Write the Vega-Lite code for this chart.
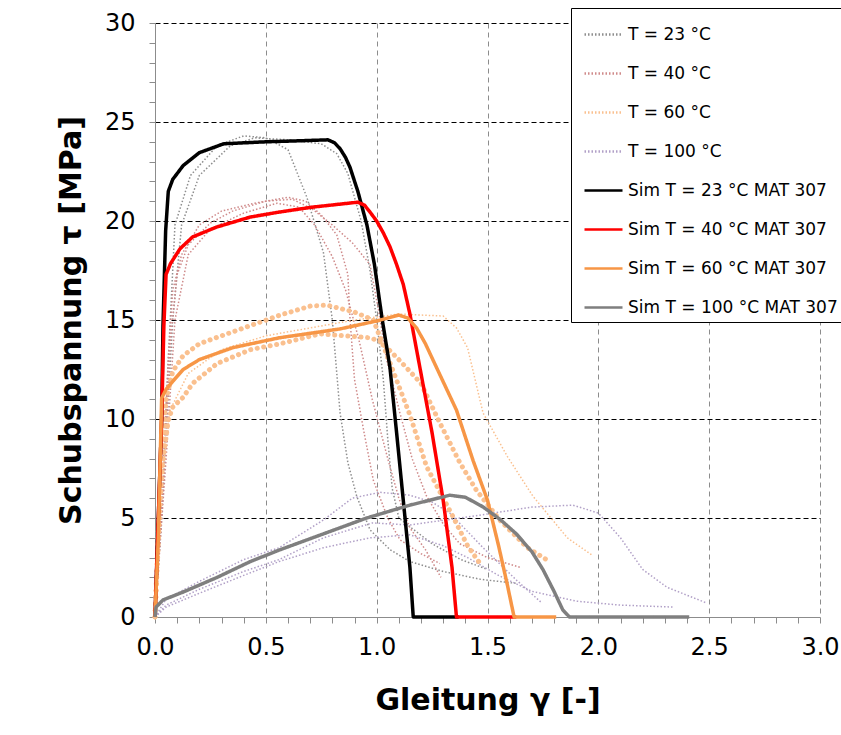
{
"$schema": "https://vega.github.io/schema/vega-lite/v6.json",
"width": 665, "height": 594,
"autosize": {"type": "none"},
"padding": {"left": 155, "top": 23, "right": 21, "bottom": 118},
"background": "white",
"config": {"view": {"stroke": null}, "font": "DejaVu Sans"},
"datasets": {"curves": [
{"series":"T = 23 °C","curve":"e23a","kind":"exp","gamma":0,"tau":0},{"series":"T = 23 °C","curve":"e23a","kind":"exp","gamma":0.03,"tau":5},{"series":"T = 23 °C","curve":"e23a","kind":"exp","gamma":0.06,"tau":13},{"series":"T = 23 °C","curve":"e23a","kind":"exp","gamma":0.09,"tau":19.8},{"series":"T = 23 °C","curve":"e23a","kind":"exp","gamma":0.16,"tau":22.3},{"series":"T = 23 °C","curve":"e23a","kind":"exp","gamma":0.28,"tau":23.8},{"series":"T = 23 °C","curve":"e23a","kind":"exp","gamma":0.4,"tau":24.3},{"series":"T = 23 °C","curve":"e23a","kind":"exp","gamma":0.5,"tau":24.2},{"series":"T = 23 °C","curve":"e23a","kind":"exp","gamma":0.6,"tau":23.6},{"series":"T = 23 °C","curve":"e23a","kind":"exp","gamma":0.685,"tau":21.2},{"series":"T = 23 °C","curve":"e23a","kind":"exp","gamma":0.76,"tau":18.4},{"series":"T = 23 °C","curve":"e23a","kind":"exp","gamma":0.8,"tau":15},{"series":"T = 23 °C","curve":"e23a","kind":"exp","gamma":0.835,"tau":10.3},{"series":"T = 23 °C","curve":"e23a","kind":"exp","gamma":0.87,"tau":7.8},{"series":"T = 23 °C","curve":"e23a","kind":"exp","gamma":0.91,"tau":6.1},{"series":"T = 23 °C","curve":"e23a","kind":"exp","gamma":0.97,"tau":4.4},{"series":"T = 23 °C","curve":"e23a","kind":"exp","gamma":1.06,"tau":3.4},{"series":"T = 23 °C","curve":"e23a","kind":"exp","gamma":1.15,"tau":2.8},{"series":"T = 23 °C","curve":"e23a","kind":"exp","gamma":1.3,"tau":2.3},{"series":"T = 23 °C","curve":"e23a","kind":"exp","gamma":1.47,"tau":1.9},{"series":"T = 23 °C","curve":"e23a","kind":"exp","gamma":1.63,"tau":1.7},
{"series":"T = 23 °C","curve":"e23b","kind":"exp","gamma":0,"tau":0},{"series":"T = 23 °C","curve":"e23b","kind":"exp","gamma":0.04,"tau":7},{"series":"T = 23 °C","curve":"e23b","kind":"exp","gamma":0.08,"tau":15},{"series":"T = 23 °C","curve":"e23b","kind":"exp","gamma":0.12,"tau":19.8},{"series":"T = 23 °C","curve":"e23b","kind":"exp","gamma":0.2,"tau":22.3},{"series":"T = 23 °C","curve":"e23b","kind":"exp","gamma":0.34,"tau":23.8},{"series":"T = 23 °C","curve":"e23b","kind":"exp","gamma":0.45,"tau":24.2},{"series":"T = 23 °C","curve":"e23b","kind":"exp","gamma":0.6,"tau":24.1},{"series":"T = 23 °C","curve":"e23b","kind":"exp","gamma":0.75,"tau":23.9},{"series":"T = 23 °C","curve":"e23b","kind":"exp","gamma":0.82,"tau":23.4},{"series":"T = 23 °C","curve":"e23b","kind":"exp","gamma":0.87,"tau":22.4},{"series":"T = 23 °C","curve":"e23b","kind":"exp","gamma":0.93,"tau":20},{"series":"T = 23 °C","curve":"e23b","kind":"exp","gamma":0.97,"tau":17.5},{"series":"T = 23 °C","curve":"e23b","kind":"exp","gamma":1.0,"tau":15},{"series":"T = 23 °C","curve":"e23b","kind":"exp","gamma":1.03,"tau":12},{"series":"T = 23 °C","curve":"e23b","kind":"exp","gamma":1.05,"tau":9},{"series":"T = 23 °C","curve":"e23b","kind":"exp","gamma":1.07,"tau":6.5},{"series":"T = 23 °C","curve":"e23b","kind":"exp","gamma":1.1,"tau":5.0},{"series":"T = 23 °C","curve":"e23b","kind":"exp","gamma":1.18,"tau":4.3},{"series":"T = 23 °C","curve":"e23b","kind":"exp","gamma":1.25,"tau":3.7},{"series":"T = 23 °C","curve":"e23b","kind":"exp","gamma":1.38,"tau":2.9},{"series":"T = 23 °C","curve":"e23b","kind":"exp","gamma":1.5,"tau":2.4},
{"series":"T = 40 °C","curve":"e40a","kind":"exp","gamma":0,"tau":0},{"series":"T = 40 °C","curve":"e40a","kind":"exp","gamma":0.03,"tau":6},{"series":"T = 40 °C","curve":"e40a","kind":"exp","gamma":0.06,"tau":13},{"series":"T = 40 °C","curve":"e40a","kind":"exp","gamma":0.08,"tau":16.5},{"series":"T = 40 °C","curve":"e40a","kind":"exp","gamma":0.12,"tau":18.3},{"series":"T = 40 °C","curve":"e40a","kind":"exp","gamma":0.2,"tau":19.8},{"series":"T = 40 °C","curve":"e40a","kind":"exp","gamma":0.3,"tau":20.5},{"series":"T = 40 °C","curve":"e40a","kind":"exp","gamma":0.45,"tau":20.9},{"series":"T = 40 °C","curve":"e40a","kind":"exp","gamma":0.6,"tau":21.2},{"series":"T = 40 °C","curve":"e40a","kind":"exp","gamma":0.68,"tau":21.0},{"series":"T = 40 °C","curve":"e40a","kind":"exp","gamma":0.75,"tau":20.3},{"series":"T = 40 °C","curve":"e40a","kind":"exp","gamma":0.82,"tau":19.3},{"series":"T = 40 °C","curve":"e40a","kind":"exp","gamma":0.87,"tau":17.3},{"series":"T = 40 °C","curve":"e40a","kind":"exp","gamma":0.88,"tau":15},{"series":"T = 40 °C","curve":"e40a","kind":"exp","gamma":0.9,"tau":12},{"series":"T = 40 °C","curve":"e40a","kind":"exp","gamma":0.94,"tau":9.5},{"series":"T = 40 °C","curve":"e40a","kind":"exp","gamma":0.985,"tau":6.9},{"series":"T = 40 °C","curve":"e40a","kind":"exp","gamma":1.05,"tau":5},{"series":"T = 40 °C","curve":"e40a","kind":"exp","gamma":1.105,"tau":3.9},{"series":"T = 40 °C","curve":"e40a","kind":"exp","gamma":1.2,"tau":3.2},{"series":"T = 40 °C","curve":"e40a","kind":"exp","gamma":1.285,"tau":2.7},
{"series":"T = 40 °C","curve":"e40b","kind":"exp","gamma":0,"tau":0},{"series":"T = 40 °C","curve":"e40b","kind":"exp","gamma":0.04,"tau":7},{"series":"T = 40 °C","curve":"e40b","kind":"exp","gamma":0.07,"tau":14},{"series":"T = 40 °C","curve":"e40b","kind":"exp","gamma":0.1,"tau":17.3},{"series":"T = 40 °C","curve":"e40b","kind":"exp","gamma":0.15,"tau":18.8},{"series":"T = 40 °C","curve":"e40b","kind":"exp","gamma":0.25,"tau":19.9},{"series":"T = 40 °C","curve":"e40b","kind":"exp","gamma":0.35,"tau":20.5},{"series":"T = 40 °C","curve":"e40b","kind":"exp","gamma":0.5,"tau":21.0},{"series":"T = 40 °C","curve":"e40b","kind":"exp","gamma":0.62,"tau":21.1},{"series":"T = 40 °C","curve":"e40b","kind":"exp","gamma":0.71,"tau":20.6},{"series":"T = 40 °C","curve":"e40b","kind":"exp","gamma":0.8,"tau":19.8},{"series":"T = 40 °C","curve":"e40b","kind":"exp","gamma":0.89,"tau":18.9},{"series":"T = 40 °C","curve":"e40b","kind":"exp","gamma":0.97,"tau":17.8},{"series":"T = 40 °C","curve":"e40b","kind":"exp","gamma":1.01,"tau":15.4},{"series":"T = 40 °C","curve":"e40b","kind":"exp","gamma":1.045,"tau":13},{"series":"T = 40 °C","curve":"e40b","kind":"exp","gamma":1.105,"tau":10.3},{"series":"T = 40 °C","curve":"e40b","kind":"exp","gamma":1.16,"tau":8},{"series":"T = 40 °C","curve":"e40b","kind":"exp","gamma":1.225,"tau":6.1},{"series":"T = 40 °C","curve":"e40b","kind":"exp","gamma":1.3,"tau":4.7},{"series":"T = 40 °C","curve":"e40b","kind":"exp","gamma":1.375,"tau":3.7},{"series":"T = 40 °C","curve":"e40b","kind":"exp","gamma":1.5,"tau":3.0},{"series":"T = 40 °C","curve":"e40b","kind":"exp","gamma":1.65,"tau":2.5},
{"series":"T = 40 °C","curve":"e40c","kind":"exp","gamma":0,"tau":0},{"series":"T = 40 °C","curve":"e40c","kind":"exp","gamma":0.05,"tau":8},{"series":"T = 40 °C","curve":"e40c","kind":"exp","gamma":0.09,"tau":15},{"series":"T = 40 °C","curve":"e40c","kind":"exp","gamma":0.15,"tau":18.3},{"series":"T = 40 °C","curve":"e40c","kind":"exp","gamma":0.25,"tau":19.6},{"series":"T = 40 °C","curve":"e40c","kind":"exp","gamma":0.4,"tau":20.4},{"series":"T = 40 °C","curve":"e40c","kind":"exp","gamma":0.55,"tau":20.9},{"series":"T = 40 °C","curve":"e40c","kind":"exp","gamma":0.65,"tau":20.7},{"series":"T = 40 °C","curve":"e40c","kind":"exp","gamma":0.72,"tau":19.8},{"series":"T = 40 °C","curve":"e40c","kind":"exp","gamma":0.8,"tau":18.2},{"series":"T = 40 °C","curve":"e40c","kind":"exp","gamma":0.86,"tau":16.5},{"series":"T = 40 °C","curve":"e40c","kind":"exp","gamma":0.92,"tau":14},{"series":"T = 40 °C","curve":"e40c","kind":"exp","gamma":0.98,"tau":11},{"series":"T = 40 °C","curve":"e40c","kind":"exp","gamma":1.05,"tau":8},{"series":"T = 40 °C","curve":"e40c","kind":"exp","gamma":1.1,"tau":6},{"series":"T = 40 °C","curve":"e40c","kind":"exp","gamma":1.15,"tau":4.5},{"series":"T = 40 °C","curve":"e40c","kind":"exp","gamma":1.22,"tau":3.4},{"series":"T = 40 °C","curve":"e40c","kind":"exp","gamma":1.29,"tau":2.0},
{"series":"T = 60 °C","curve":"e60c","kind":"exp","gamma":0,"tau":0},{"series":"T = 60 °C","curve":"e60c","kind":"exp","gamma":0.03,"tau":7},{"series":"T = 60 °C","curve":"e60c","kind":"exp","gamma":0.07,"tau":10.5},{"series":"T = 60 °C","curve":"e60c","kind":"exp","gamma":0.15,"tau":12.3},{"series":"T = 60 °C","curve":"e60c","kind":"exp","gamma":0.3,"tau":13.5},{"series":"T = 60 °C","curve":"e60c","kind":"exp","gamma":0.5,"tau":14.2},{"series":"T = 60 °C","curve":"e60c","kind":"exp","gamma":0.7,"tau":14.6},{"series":"T = 60 °C","curve":"e60c","kind":"exp","gamma":0.9,"tau":15},{"series":"T = 60 °C","curve":"e60c","kind":"exp","gamma":1.1,"tau":15.3},{"series":"T = 60 °C","curve":"e60c","kind":"exp","gamma":1.3,"tau":15.2},{"series":"T = 60 °C","curve":"e60c","kind":"exp","gamma":1.36,"tau":14.6},{"series":"T = 60 °C","curve":"e60c","kind":"exp","gamma":1.41,"tau":13.6},{"series":"T = 60 °C","curve":"e60c","kind":"exp","gamma":1.48,"tau":10.3},{"series":"T = 60 °C","curve":"e60c","kind":"exp","gamma":1.59,"tau":8.1},{"series":"T = 60 °C","curve":"e60c","kind":"exp","gamma":1.705,"tau":6.1},{"series":"T = 60 °C","curve":"e60c","kind":"exp","gamma":1.86,"tau":4.0},{"series":"T = 60 °C","curve":"e60c","kind":"exp","gamma":1.975,"tau":3.1},
{"series":"T = 100 °C","curve":"e100a","kind":"exp","gamma":0,"tau":0},{"series":"T = 100 °C","curve":"e100a","kind":"exp","gamma":0.05,"tau":0.9},{"series":"T = 100 °C","curve":"e100a","kind":"exp","gamma":0.2,"tau":1.8},{"series":"T = 100 °C","curve":"e100a","kind":"exp","gamma":0.4,"tau":2.9},{"series":"T = 100 °C","curve":"e100a","kind":"exp","gamma":0.56,"tau":3.5},{"series":"T = 100 °C","curve":"e100a","kind":"exp","gamma":0.76,"tau":4.9},{"series":"T = 100 °C","curve":"e100a","kind":"exp","gamma":0.89,"tau":6.0},{"series":"T = 100 °C","curve":"e100a","kind":"exp","gamma":1.015,"tau":6.3},{"series":"T = 100 °C","curve":"e100a","kind":"exp","gamma":1.15,"tau":6.15},{"series":"T = 100 °C","curve":"e100a","kind":"exp","gamma":1.25,"tau":5.8},{"series":"T = 100 °C","curve":"e100a","kind":"exp","gamma":1.33,"tau":5.25},{"series":"T = 100 °C","curve":"e100a","kind":"exp","gamma":1.48,"tau":3.5},{"series":"T = 100 °C","curve":"e100a","kind":"exp","gamma":1.63,"tau":1.87},{"series":"T = 100 °C","curve":"e100a","kind":"exp","gamma":1.74,"tau":0.76},
{"series":"T = 100 °C","curve":"e100b","kind":"exp","gamma":0,"tau":0},{"series":"T = 100 °C","curve":"e100b","kind":"exp","gamma":0.05,"tau":0.6},{"series":"T = 100 °C","curve":"e100b","kind":"exp","gamma":0.2,"tau":1.4},{"series":"T = 100 °C","curve":"e100b","kind":"exp","gamma":0.4,"tau":2.3},{"series":"T = 100 °C","curve":"e100b","kind":"exp","gamma":0.56,"tau":2.9},{"series":"T = 100 °C","curve":"e100b","kind":"exp","gamma":0.76,"tau":4.0},{"series":"T = 100 °C","curve":"e100b","kind":"exp","gamma":0.98,"tau":4.75},{"series":"T = 100 °C","curve":"e100b","kind":"exp","gamma":1.15,"tau":4.65},{"series":"T = 100 °C","curve":"e100b","kind":"exp","gamma":1.41,"tau":5.05},{"series":"T = 100 °C","curve":"e100b","kind":"exp","gamma":1.7,"tau":5.55},{"series":"T = 100 °C","curve":"e100b","kind":"exp","gamma":1.885,"tau":5.65},{"series":"T = 100 °C","curve":"e100b","kind":"exp","gamma":2.0,"tau":5.25},{"series":"T = 100 °C","curve":"e100b","kind":"exp","gamma":2.1,"tau":4.0},{"series":"T = 100 °C","curve":"e100b","kind":"exp","gamma":2.2,"tau":2.4},{"series":"T = 100 °C","curve":"e100b","kind":"exp","gamma":2.31,"tau":1.5},{"series":"T = 100 °C","curve":"e100b","kind":"exp","gamma":2.49,"tau":0.7},
{"series":"T = 100 °C","curve":"e100c","kind":"exp","gamma":0,"tau":0},{"series":"T = 100 °C","curve":"e100c","kind":"exp","gamma":0.05,"tau":0.5},{"series":"T = 100 °C","curve":"e100c","kind":"exp","gamma":0.2,"tau":1.2},{"series":"T = 100 °C","curve":"e100c","kind":"exp","gamma":0.4,"tau":2.1},{"series":"T = 100 °C","curve":"e100c","kind":"exp","gamma":0.56,"tau":2.8},{"series":"T = 100 °C","curve":"e100c","kind":"exp","gamma":0.76,"tau":3.5},{"series":"T = 100 °C","curve":"e100c","kind":"exp","gamma":0.97,"tau":4.0},{"series":"T = 100 °C","curve":"e100c","kind":"exp","gamma":1.15,"tau":4.15},{"series":"T = 100 °C","curve":"e100c","kind":"exp","gamma":1.3,"tau":3.6},{"series":"T = 100 °C","curve":"e100c","kind":"exp","gamma":1.41,"tau":3.0},{"series":"T = 100 °C","curve":"e100c","kind":"exp","gamma":1.55,"tau":2.1},{"series":"T = 100 °C","curve":"e100c","kind":"exp","gamma":1.7,"tau":1.3},{"series":"T = 100 °C","curve":"e100c","kind":"exp","gamma":1.9,"tau":0.8},{"series":"T = 100 °C","curve":"e100c","kind":"exp","gamma":2.1,"tau":0.6},{"series":"T = 100 °C","curve":"e100c","kind":"exp","gamma":2.34,"tau":0.5},
{"series":"T = 60 °C","curve":"e60a","kind":"big","gamma":0,"tau":0},{"series":"T = 60 °C","curve":"e60a","kind":"big","gamma":0.01,"tau":3},{"series":"T = 60 °C","curve":"e60a","kind":"big","gamma":0.015,"tau":4.5},{"series":"T = 60 °C","curve":"e60a","kind":"big","gamma":0.036,"tau":7.9},{"series":"T = 60 °C","curve":"e60a","kind":"big","gamma":0.06,"tau":9.95},{"series":"T = 60 °C","curve":"e60a","kind":"big","gamma":0.08,"tau":10.6},{"series":"T = 60 °C","curve":"e60a","kind":"big","gamma":0.127,"tau":11.1},{"series":"T = 60 °C","curve":"e60a","kind":"big","gamma":0.17,"tau":11.8},{"series":"T = 60 °C","curve":"e60a","kind":"big","gamma":0.28,"tau":12.8},{"series":"T = 60 °C","curve":"e60a","kind":"big","gamma":0.43,"tau":13.5},{"series":"T = 60 °C","curve":"e60a","kind":"big","gamma":0.565,"tau":13.8},{"series":"T = 60 °C","curve":"e60a","kind":"big","gamma":0.745,"tau":14.3},{"series":"T = 60 °C","curve":"e60a","kind":"big","gamma":0.97,"tau":14.1},{"series":"T = 60 °C","curve":"e60a","kind":"big","gamma":1.02,"tau":13.9},{"series":"T = 60 °C","curve":"e60a","kind":"big","gamma":1.1,"tau":13.0},{"series":"T = 60 °C","curve":"e60a","kind":"big","gamma":1.2,"tau":11.8},{"series":"T = 60 °C","curve":"e60a","kind":"big","gamma":1.285,"tau":9.8},{"series":"T = 60 °C","curve":"e60a","kind":"big","gamma":1.375,"tau":7.8},{"series":"T = 60 °C","curve":"e60a","kind":"big","gamma":1.45,"tau":6.4},{"series":"T = 60 °C","curve":"e60a","kind":"big","gamma":1.555,"tau":4.9},{"series":"T = 60 °C","curve":"e60a","kind":"big","gamma":1.68,"tau":3.5},{"series":"T = 60 °C","curve":"e60a","kind":"big","gamma":1.78,"tau":2.8},
{"series":"T = 60 °C","curve":"e60b","kind":"big","gamma":0,"tau":0},{"series":"T = 60 °C","curve":"e60b","kind":"big","gamma":0.01,"tau":2.5},{"series":"T = 60 °C","curve":"e60b","kind":"big","gamma":0.02,"tau":5},{"series":"T = 60 °C","curve":"e60b","kind":"big","gamma":0.03,"tau":8},{"series":"T = 60 °C","curve":"e60b","kind":"big","gamma":0.05,"tau":11},{"series":"T = 60 °C","curve":"e60b","kind":"big","gamma":0.08,"tau":12.4},{"series":"T = 60 °C","curve":"e60b","kind":"big","gamma":0.127,"tau":13.2},{"series":"T = 60 °C","curve":"e60b","kind":"big","gamma":0.2,"tau":13.8},{"series":"T = 60 °C","curve":"e60b","kind":"big","gamma":0.35,"tau":14.4},{"series":"T = 60 °C","curve":"e60b","kind":"big","gamma":0.565,"tau":15.25},{"series":"T = 60 °C","curve":"e60b","kind":"big","gamma":0.7,"tau":15.7},{"series":"T = 60 °C","curve":"e60b","kind":"big","gamma":0.775,"tau":15.75},{"series":"T = 60 °C","curve":"e60b","kind":"big","gamma":0.9,"tau":15.4},{"series":"T = 60 °C","curve":"e60b","kind":"big","gamma":0.985,"tau":15},{"series":"T = 60 °C","curve":"e60b","kind":"big","gamma":1.075,"tau":12.4},{"series":"T = 60 °C","curve":"e60b","kind":"big","gamma":1.15,"tau":10.2},{"series":"T = 60 °C","curve":"e60b","kind":"big","gamma":1.225,"tau":7.6},{"series":"T = 60 °C","curve":"e60b","kind":"big","gamma":1.345,"tau":5.05},{"series":"T = 60 °C","curve":"e60b","kind":"big","gamma":1.41,"tau":3.6},{"series":"T = 60 °C","curve":"e60b","kind":"big","gamma":1.466,"tau":2.7},
{"series":"Sim T = 23 °C MAT 307","curve":"s23","kind":"sim","gamma":0,"tau":0},{"series":"Sim T = 23 °C MAT 307","curve":"s23","kind":"sim","gamma":0.03,"tau":10},{"series":"Sim T = 23 °C MAT 307","curve":"s23","kind":"sim","gamma":0.036,"tau":14.7},{"series":"Sim T = 23 °C MAT 307","curve":"s23","kind":"sim","gamma":0.048,"tau":19.5},{"series":"Sim T = 23 °C MAT 307","curve":"s23","kind":"sim","gamma":0.06,"tau":21.5},{"series":"Sim T = 23 °C MAT 307","curve":"s23","kind":"sim","gamma":0.08,"tau":22.1},{"series":"Sim T = 23 °C MAT 307","curve":"s23","kind":"sim","gamma":0.127,"tau":22.8},{"series":"Sim T = 23 °C MAT 307","curve":"s23","kind":"sim","gamma":0.2,"tau":23.45},{"series":"Sim T = 23 °C MAT 307","curve":"s23","kind":"sim","gamma":0.31,"tau":23.9},{"series":"Sim T = 23 °C MAT 307","curve":"s23","kind":"sim","gamma":0.5,"tau":24.0},{"series":"Sim T = 23 °C MAT 307","curve":"s23","kind":"sim","gamma":0.65,"tau":24.05},{"series":"Sim T = 23 °C MAT 307","curve":"s23","kind":"sim","gamma":0.78,"tau":24.1},{"series":"Sim T = 23 °C MAT 307","curve":"s23","kind":"sim","gamma":0.81,"tau":23.95},{"series":"Sim T = 23 °C MAT 307","curve":"s23","kind":"sim","gamma":0.835,"tau":23.65},{"series":"Sim T = 23 °C MAT 307","curve":"s23","kind":"sim","gamma":0.86,"tau":23.2},{"series":"Sim T = 23 °C MAT 307","curve":"s23","kind":"sim","gamma":0.88,"tau":22.7},{"series":"Sim T = 23 °C MAT 307","curve":"s23","kind":"sim","gamma":0.915,"tau":21.5},{"series":"Sim T = 23 °C MAT 307","curve":"s23","kind":"sim","gamma":0.956,"tau":19.8},{"series":"Sim T = 23 °C MAT 307","curve":"s23","kind":"sim","gamma":0.99,"tau":17.8},{"series":"Sim T = 23 °C MAT 307","curve":"s23","kind":"sim","gamma":1.024,"tau":15.1},{"series":"Sim T = 23 °C MAT 307","curve":"s23","kind":"sim","gamma":1.06,"tau":12.6},{"series":"Sim T = 23 °C MAT 307","curve":"s23","kind":"sim","gamma":1.09,"tau":9.3},{"series":"Sim T = 23 °C MAT 307","curve":"s23","kind":"sim","gamma":1.12,"tau":5.9},{"series":"Sim T = 23 °C MAT 307","curve":"s23","kind":"sim","gamma":1.15,"tau":2.5},{"series":"Sim T = 23 °C MAT 307","curve":"s23","kind":"sim","gamma":1.165,"tau":0},{"series":"Sim T = 23 °C MAT 307","curve":"s23","kind":"sim","gamma":1.37,"tau":0},
{"series":"Sim T = 40 °C MAT 307","curve":"s40","kind":"sim","gamma":0,"tau":0},{"series":"Sim T = 40 °C MAT 307","curve":"s40","kind":"sim","gamma":0.03,"tau":10},{"series":"Sim T = 40 °C MAT 307","curve":"s40","kind":"sim","gamma":0.04,"tau":14.7},{"series":"Sim T = 40 °C MAT 307","curve":"s40","kind":"sim","gamma":0.05,"tau":17.3},{"series":"Sim T = 40 °C MAT 307","curve":"s40","kind":"sim","gamma":0.07,"tau":17.85},{"series":"Sim T = 40 °C MAT 307","curve":"s40","kind":"sim","gamma":0.113,"tau":18.6},{"series":"Sim T = 40 °C MAT 307","curve":"s40","kind":"sim","gamma":0.17,"tau":19.2},{"series":"Sim T = 40 °C MAT 307","curve":"s40","kind":"sim","gamma":0.28,"tau":19.7},{"series":"Sim T = 40 °C MAT 307","curve":"s40","kind":"sim","gamma":0.43,"tau":20.2},{"series":"Sim T = 40 °C MAT 307","curve":"s40","kind":"sim","gamma":0.56,"tau":20.45},{"series":"Sim T = 40 °C MAT 307","curve":"s40","kind":"sim","gamma":0.71,"tau":20.7},{"series":"Sim T = 40 °C MAT 307","curve":"s40","kind":"sim","gamma":0.915,"tau":20.95},{"series":"Sim T = 40 °C MAT 307","curve":"s40","kind":"sim","gamma":0.945,"tau":20.8},{"series":"Sim T = 40 °C MAT 307","curve":"s40","kind":"sim","gamma":0.97,"tau":20.45},{"series":"Sim T = 40 °C MAT 307","curve":"s40","kind":"sim","gamma":1.0,"tau":20.0},{"series":"Sim T = 40 °C MAT 307","curve":"s40","kind":"sim","gamma":1.03,"tau":19.4},{"series":"Sim T = 40 °C MAT 307","curve":"s40","kind":"sim","gamma":1.06,"tau":18.7},{"series":"Sim T = 40 °C MAT 307","curve":"s40","kind":"sim","gamma":1.09,"tau":17.8},{"series":"Sim T = 40 °C MAT 307","curve":"s40","kind":"sim","gamma":1.12,"tau":16.8},{"series":"Sim T = 40 °C MAT 307","curve":"s40","kind":"sim","gamma":1.15,"tau":15.3},{"series":"Sim T = 40 °C MAT 307","curve":"s40","kind":"sim","gamma":1.195,"tau":12.6},{"series":"Sim T = 40 °C MAT 307","curve":"s40","kind":"sim","gamma":1.25,"tau":9.3},{"series":"Sim T = 40 °C MAT 307","curve":"s40","kind":"sim","gamma":1.3,"tau":5.9},{"series":"Sim T = 40 °C MAT 307","curve":"s40","kind":"sim","gamma":1.34,"tau":2.5},{"series":"Sim T = 40 °C MAT 307","curve":"s40","kind":"sim","gamma":1.36,"tau":0},{"series":"Sim T = 40 °C MAT 307","curve":"s40","kind":"sim","gamma":1.63,"tau":0},
{"series":"Sim T = 60 °C MAT 307","curve":"s60","kind":"sim","gamma":0,"tau":0},{"series":"Sim T = 60 °C MAT 307","curve":"s60","kind":"sim","gamma":0.015,"tau":4},{"series":"Sim T = 60 °C MAT 307","curve":"s60","kind":"sim","gamma":0.03,"tau":11.05},{"series":"Sim T = 60 °C MAT 307","curve":"s60","kind":"sim","gamma":0.05,"tau":11.5},{"series":"Sim T = 60 °C MAT 307","curve":"s60","kind":"sim","gamma":0.08,"tau":11.9},{"series":"Sim T = 60 °C MAT 307","curve":"s60","kind":"sim","gamma":0.127,"tau":12.5},{"series":"Sim T = 60 °C MAT 307","curve":"s60","kind":"sim","gamma":0.2,"tau":13},{"series":"Sim T = 60 °C MAT 307","curve":"s60","kind":"sim","gamma":0.35,"tau":13.6},{"series":"Sim T = 60 °C MAT 307","curve":"s60","kind":"sim","gamma":0.56,"tau":14.1},{"series":"Sim T = 60 °C MAT 307","curve":"s60","kind":"sim","gamma":0.835,"tau":14.55},{"series":"Sim T = 60 °C MAT 307","curve":"s60","kind":"sim","gamma":1.0,"tau":14.95},{"series":"Sim T = 60 °C MAT 307","curve":"s60","kind":"sim","gamma":1.1,"tau":15.25},{"series":"Sim T = 60 °C MAT 307","curve":"s60","kind":"sim","gamma":1.14,"tau":15.1},{"series":"Sim T = 60 °C MAT 307","curve":"s60","kind":"sim","gamma":1.18,"tau":14.6},{"series":"Sim T = 60 °C MAT 307","curve":"s60","kind":"sim","gamma":1.22,"tau":13.8},{"series":"Sim T = 60 °C MAT 307","curve":"s60","kind":"sim","gamma":1.27,"tau":12.6},{"series":"Sim T = 60 °C MAT 307","curve":"s60","kind":"sim","gamma":1.36,"tau":10.45},{"series":"Sim T = 60 °C MAT 307","curve":"s60","kind":"sim","gamma":1.435,"tau":7.9},{"series":"Sim T = 60 °C MAT 307","curve":"s60","kind":"sim","gamma":1.5,"tau":5.9},{"series":"Sim T = 60 °C MAT 307","curve":"s60","kind":"sim","gamma":1.55,"tau":3.6},{"series":"Sim T = 60 °C MAT 307","curve":"s60","kind":"sim","gamma":1.59,"tau":1.6},{"series":"Sim T = 60 °C MAT 307","curve":"s60","kind":"sim","gamma":1.62,"tau":0},{"series":"Sim T = 60 °C MAT 307","curve":"s60","kind":"sim","gamma":1.81,"tau":0},
{"series":"Sim T = 100 °C MAT 307","curve":"s100","kind":"sim","gamma":0,"tau":0},{"series":"Sim T = 100 °C MAT 307","curve":"s100","kind":"sim","gamma":0.005,"tau":0.5},{"series":"Sim T = 100 °C MAT 307","curve":"s100","kind":"sim","gamma":0.036,"tau":0.86},{"series":"Sim T = 100 °C MAT 307","curve":"s100","kind":"sim","gamma":0.127,"tau":1.26},{"series":"Sim T = 100 °C MAT 307","curve":"s100","kind":"sim","gamma":0.28,"tau":2.0},{"series":"Sim T = 100 °C MAT 307","curve":"s100","kind":"sim","gamma":0.43,"tau":2.8},{"series":"Sim T = 100 °C MAT 307","curve":"s100","kind":"sim","gamma":0.565,"tau":3.4},{"series":"Sim T = 100 °C MAT 307","curve":"s100","kind":"sim","gamma":0.76,"tau":4.2},{"series":"Sim T = 100 °C MAT 307","curve":"s100","kind":"sim","gamma":0.955,"tau":5.0},{"series":"Sim T = 100 °C MAT 307","curve":"s100","kind":"sim","gamma":1.15,"tau":5.65},{"series":"Sim T = 100 °C MAT 307","curve":"s100","kind":"sim","gamma":1.33,"tau":6.15},{"series":"Sim T = 100 °C MAT 307","curve":"s100","kind":"sim","gamma":1.4,"tau":6.05},{"series":"Sim T = 100 °C MAT 307","curve":"s100","kind":"sim","gamma":1.48,"tau":5.56},{"series":"Sim T = 100 °C MAT 307","curve":"s100","kind":"sim","gamma":1.56,"tau":4.9},{"series":"Sim T = 100 °C MAT 307","curve":"s100","kind":"sim","gamma":1.63,"tau":4.2},{"series":"Sim T = 100 °C MAT 307","curve":"s100","kind":"sim","gamma":1.7,"tau":3.3},{"series":"Sim T = 100 °C MAT 307","curve":"s100","kind":"sim","gamma":1.75,"tau":2.4},{"series":"Sim T = 100 °C MAT 307","curve":"s100","kind":"sim","gamma":1.8,"tau":1.3},{"series":"Sim T = 100 °C MAT 307","curve":"s100","kind":"sim","gamma":1.84,"tau":0.35},{"series":"Sim T = 100 °C MAT 307","curve":"s100","kind":"sim","gamma":1.87,"tau":0},{"series":"Sim T = 100 °C MAT 307","curve":"s100","kind":"sim","gamma":2.41,"tau":0}
]},
"data": {"name": "curves"},
"encoding": {
  "x": {"field": "gamma", "type": "quantitative",
    "scale": {"domain": [0, 3], "nice": false, "zero": false},
    "axis": {"title": "Gleitung γ [-]",
      "values": [0,0.1,0.2,0.3,0.4,0.5,0.6,0.7,0.8,0.9,1,1.1,1.2,1.3,1.4,1.5,1.6,1.7,1.8,1.9,2,2.1,2.2,2.3,2.4,2.5,2.6,2.7,2.8,2.9,3],
      "labelExpr": "abs(datum.value*2 - round(datum.value*2)) < 0.001 ? format(datum.value, '.1f') : ''",
      "labelOverlap": false, "labelFlush": false, "labelFontSize": 24, "labelColor": "black", "labelPadding": 12,
      "tickColor": "#8c8c8c", "tickSize": 6, "domainColor": "#8c8c8c", "domainWidth": 1,
      "grid": true, "gridColor": "#8c8c8c", "gridDash": [5, 4], "gridWidth": 1,
      "gridOpacity": {"condition": {"test": "abs(datum.value*2 - round(datum.value*2)) < 0.001 && datum.value > 0", "value": 1}, "value": 0},
      "titleFontSize": 30, "titleFontWeight": "bold", "titleColor": "black", "titlePadding": 26}},
  "y": {"field": "tau", "type": "quantitative",
    "scale": {"domain": [0, 30], "nice": false},
    "axis": {"title": "Schubspannung τ [MPa]",
      "values": [0,1,2,3,4,5,6,7,8,9,10,11,12,13,14,15,16,17,18,19,20,21,22,23,24,25,26,27,28,29,30],
      "labelExpr": "datum.value % 5 == 0 ? datum.label : ''",
      "labelOverlap": false, "labelFlush": false, "labelFontSize": 24, "labelColor": "black", "labelPadding": 14,
      "tickColor": "#8c8c8c", "tickSize": 6, "domainColor": "#8c8c8c", "domainWidth": 1,
      "grid": true, "gridColor": "black", "gridDash": [5, 3], "gridWidth": 1,
      "gridOpacity": {"condition": {"test": "datum.value % 5 == 0 && datum.value > 0", "value": 1}, "value": 0},
      "titleFontSize": 30, "titleFontWeight": "bold", "titleColor": "black", "titlePadding": 18}},
  "color": {"field": "series", "type": "nominal",
    "scale": {"domain": ["T = 23 °C","T = 40 °C","T = 60 °C","T = 100 °C","Sim T = 23 °C MAT 307","Sim T = 40 °C MAT 307","Sim T = 60 °C MAT 307","Sim T = 100 °C MAT 307"],
      "range": ["#8e8e8e","#cf8a8a","#fac08f","#b1a0c7","#000000","#ff0000","#f79646","#7f7f7f"]},
    "legend": {"title": null, "orient": "none", "legendX": 416, "legendY": -15, "strokeColor": "black", "fillColor": "white",
      "padding": 6, "symbolType": "stroke", "symbolSize": 1444, "symbolOffset": 6, "labelFontSize": 17, "labelColor": "black", "labelLimit": 400,
      "rowPadding": 10, "labelOffset": 4, "symbolStrokeWidth": 2.5}},
  "detail": {"field": "curve"}
},
"layer": [
  {"transform": [{"filter": "datum.kind == 'exp'"}],
   "mark": {"type": "line", "strokeCap": "butt", "strokeWidth": 1.5},
   "encoding": {
     "strokeDash": {"field": "series", "type": "nominal",
       "scale": {"domain": ["T = 23 °C","T = 40 °C","T = 60 °C","T = 100 °C","Sim T = 23 °C MAT 307","Sim T = 40 °C MAT 307","Sim T = 60 °C MAT 307","Sim T = 100 °C MAT 307"],
         "range": [[1.5,2],[1.5,2],[1.5,2],[1.5,2],[1,0],[1,0],[1,0],[1,0]]}}
   }},
  {"transform": [{"filter": "datum.kind == 'big'"}],
   "mark": {"type": "line", "strokeWidth": 5, "strokeDash": [0.1, 6.5], "strokeCap": "round"}},
  {"transform": [{"filter": "datum.kind == 'sim'"}],
   "mark": {"type": "line", "strokeCap": "butt", "strokeJoin": "round", "strokeWidth": 3.5},
   "encoding": {
     "strokeDash": {"field": "series", "type": "nominal"}
   }}
]
}
